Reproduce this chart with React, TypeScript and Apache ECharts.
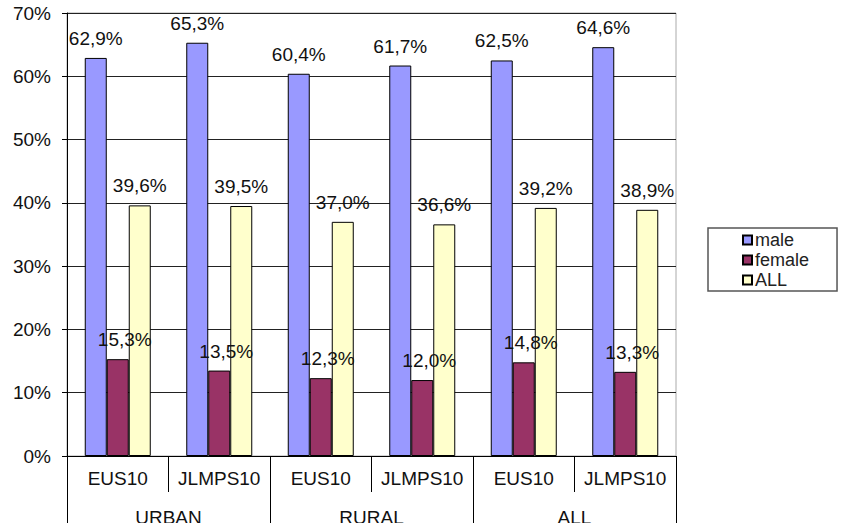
import React, { useEffect, useRef } from "react";
import * as echarts from "echarts";

const surveys = ["EUS10", "JLMPS10", "EUS10", "JLMPS10", "EUS10", "JLMPS10"];
const areas = ["URBAN", "RURAL", "ALL"];
const yTicks = [0, 10, 20, 30, 40, 50, 60, 70];

const male = [62.9, 65.3, 60.4, 61.7, 62.5, 64.6];
const female = [15.3, 13.5, 12.3, 12.0, 14.8, 13.3];
const all = [39.6, 39.5, 37.0, 36.6, 39.2, 38.9];

const FONT = "Liberation Sans, Arial, sans-serif";

const pct = (v: number) => v.toFixed(1).replace(".", ",") + "%";

export default function App() {
    const chartRef = useRef<HTMLDivElement>(null);

    useEffect(() => {
        const chart = echarts.init(chartRef.current!, undefined, { renderer: "svg" });

        const barLabel = (offset: number[]) => ({
            show: true,
            position: "top" as const,
            distance: 10,
            offset,
            color: "#111",
            fontSize: 19,
            fontFamily: FONT,
            formatter: (p: any) => pct(p.value),
        });

        const option: any = {
            animation: false,
            backgroundColor: "#fff",
            textStyle: { fontFamily: FONT },
            grid: {
                left: 67,
                right: 165,
                top: 13,
                bottom: 67,
                outerBoundsMode: "none",
                show: true,
                borderColor: "#aaa",
                borderWidth: 1,
                backgroundColor: "#fff",
            },
            legend: {
                orient: "vertical",
                left: 708,
                top: 228,
                padding: [3, 28, 2, 34],
                itemWidth: 9,
                itemHeight: 9,
                itemGap: 2,
                icon: "rect",
                borderColor: "#555",
                borderWidth: 1.5,
                backgroundColor: "#fff",
                textStyle: {
                    fontSize: 18,
                    lineHeight: 18,
                    color: "#222",
                    fontFamily: FONT,
                    padding: [0, 0, 0, -2],
                },
                data: ["male", "female", "ALL"],
            },
            xAxis: [
                {
                    type: "category",
                    data: surveys,
                    position: "bottom",
                    axisLine: { show: true, lineStyle: { color: "#000", width: 1 } },
                    axisTick: { show: true, interval: 0, length: 36, lineStyle: { color: "#000" } },
                    axisLabel: {
                        interval: 0,
                        margin: 13,
                        fontSize: 19,
                        color: "#111",
                        fontFamily: FONT,
                    },
                },
                {
                    type: "category",
                    data: areas,
                    position: "bottom",
                    axisLine: { show: false },
                    axisTick: { show: true, interval: 0, length: 90, lineStyle: { color: "#000" } },
                    axisLabel: {
                        interval: 0,
                        margin: 52,
                        fontSize: 19,
                        color: "#111",
                        fontFamily: FONT,
                    },
                },
            ],
            yAxis: {
                type: "value",
                min: yTicks[0],
                max: yTicks[yTicks.length - 1],
                interval: 10,
                axisLine: { show: true, lineStyle: { color: "#000", width: 1 } },
                axisTick: { show: true, length: 5, lineStyle: { color: "#000" } },
                axisLabel: {
                    margin: 16,
                    fontSize: 19,
                    color: "#111",
                    fontFamily: FONT,
                    formatter: "{value}%",
                },
                splitLine: { show: true, lineStyle: { color: "#222", width: 1 } },
            },
            series: [
                {
                    name: "male",
                    type: "bar",
                    data: male,
                    barWidth: 22,
                    barGap: "0%",
                    itemStyle: { color: "#9999ff", borderColor: "#000", borderWidth: 1 },
                    label: barLabel([0, 0]),
                },
                {
                    name: "female",
                    type: "bar",
                    data: female,
                    barWidth: 22,
                    barGap: "0%",
                    itemStyle: { color: "#993366", borderColor: "#000", borderWidth: 1 },
                    label: barLabel([7, 0]),
                },
                {
                    name: "ALL",
                    type: "bar",
                    data: all,
                    barWidth: 22,
                    barGap: "0%",
                    itemStyle: { color: "#ffffcc", borderColor: "#000", borderWidth: 1 },
                    label: barLabel([0, 0]),
                },
            ],
        };

        chart.setOption(option);

        return () => {
            chart.dispose();
        };
    }, []);

    return (
        <div
            ref={chartRef}
            style={{ position: "fixed", left: 0, top: 0, width: "841px", height: "523px" }}
        />
    );
}
